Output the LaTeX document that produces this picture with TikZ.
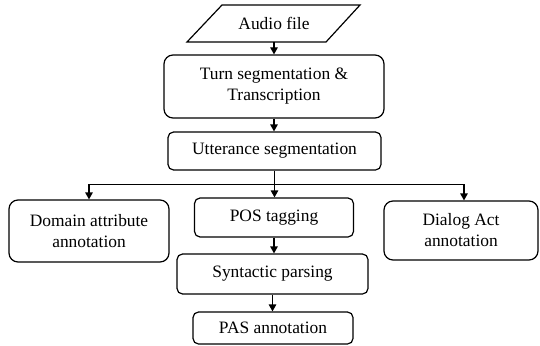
\documentclass[tikz,border=0pt]{standalone}
\usepackage{fontspec}
\setmainfont{Liberation Serif}
\usetikzlibrary{arrows.meta}
\begin{document}
\begin{tikzpicture}[x=1pt,y=-1pt,
  lw/.style={line width=1.2pt},
  txt/.style={font=\fontsize{17.4}{21}\selectfont},
  boxbig/.style={draw,lw,rounded corners=9pt,align=center,inner sep=0pt,txt},
  boxsmall/.style={boxbig,rounded corners=5.5pt},
  arr/.style={lw,-{Triangle[length=7pt,width=7.5pt]}}]
\useasboundingbox (0,0) rectangle (540,345);
% audio file (parallelogram)
\node[inner sep=0pt,minimum height=37pt,txt] (audio) at (274,23.5) {Audio file};
\draw[lw] (222,5) -- (360,5) -- (326,42) -- (187,42) -- cycle;
\node[boxbig,minimum width=220pt,minimum height=63pt] (turn) at (274,86.5) {Turn segmentation \&\\Transcription};
\node[boxsmall,minimum width=213pt,minimum height=38pt] (utter) at (274.5,151) {Utterance segmentation};
\node[boxbig,minimum width=160pt,minimum height=62pt] (domain) at (89,231) {Domain attribute\\annotation};
\node[boxsmall,minimum width=159pt,minimum height=39pt] (pos) at (274,217.5) {POS tagging};
\node[boxbig,minimum width=154pt,minimum height=59pt] (dialog) at (461,230.5) {Dialog Act\\annotation};
\node[boxsmall,minimum width=191pt,minimum height=40pt] (syn) at (272.5,274) {Syntactic parsing};
\node[boxsmall,minimum width=160pt,minimum height=32pt] (pas) at (273,328) {PAS annotation};
% connectors
\draw[arr] (audio.south) -- (audio.south |- turn.north);
\draw[arr] (turn.south) -- (turn.south |- utter.north);
\draw[lw] (utter.south) -- ++(0,14) coordinate (j);
\draw[arr] (j) -| (domain.north);
\draw[arr] (j) -| ([xshift=3pt]dialog.north);
\draw[arr] (j) -- (j |- pos.north);
\draw[arr] (pos.south) -- (pos.south |- syn.north);
\draw[arr] (syn.south) -- (syn.south |- pas.north);
\end{tikzpicture}
\end{document}
